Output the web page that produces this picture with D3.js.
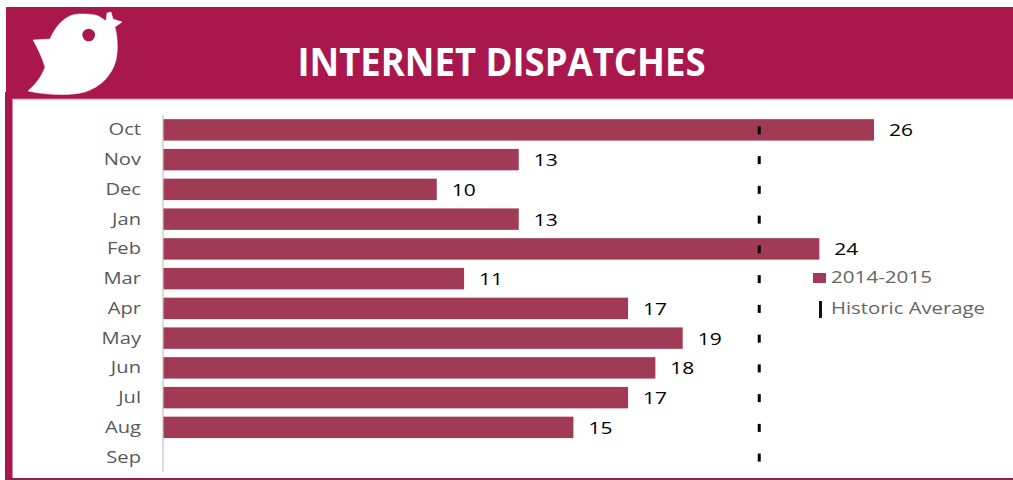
<!DOCTYPE html>
<html>
<head>
<meta charset="utf-8">
<script src="https://cdn.jsdelivr.net/npm/d3@7"></script>
<style>
html, body { margin: 0; padding: 0; background: #fff; overflow: hidden; }
text { font-family: "Open Sans", sans-serif; }
</style>
</head>
<body>
<div id="graphic"></div>
<script>
var months = ["Oct", "Nov", "Dec", "Jan", "Feb", "Mar", "Apr", "May", "Jun", "Jul", "Aug", "Sep"];
var dispatches = [26, 13, 10, 13, 24, 11, 17, 19, 18, 17, 15, null];
var historic = [21.8, 21.8, 21.8, 21.8, 21.8, 21.8, 21.8, 21.8, 21.8, 21.8, 21.8, 21.8];
var legendLabels = ["2014-2015", "Historic Average"];
var title = "INTERNET DISPATCHES";

var crimson = "#a9174d", barColor = "#a13a55";

var svg = d3.select("#graphic").append("svg").attr("width", 1013).attr("height", 480)
  .style("display", "block");

// frame and banner
svg.append("rect").attr("x", 5).attr("y", 92).attr("width", 7.5).attr("height", 388).attr("fill", crimson);
svg.append("rect").attr("x", 5).attr("y", 478).attr("width", 1008).attr("height", 2).attr("fill", "#8a2347");
svg.append("rect").attr("x", 6).attr("y", 7).attr("width", 1007).attr("height", 92).attr("fill", crimson);
svg.append("rect").attr("x", 12).attr("y", 98.5).attr("width", 1001).attr("height", 1).attr("fill", "#d9799b");

// bird
svg.append("path")
  .attr("d", "M33,40 L50,39 C56,25 66,14 80,14 C88,14 95,14 100,17 L106,21 L107,13 L111,12 L113,19 L122,22 L115,27 C118,40 118,50 116,60 C112,76 100,87 85,92 C70,96 45,95 28,91 C36,84 42,76 45,67 C42,57 38,49 33,40 Z")
  .attr("fill", "#fff").attr("stroke", "#fff").attr("stroke-width", 0.5).attr("stroke-linejoin", "round");
svg.append("circle").attr("cx", 88.7).attr("cy", 35).attr("r", 6.3).attr("fill", crimson);

svg.append("text").attr("x", 501.5).attr("y", 76).attr("text-anchor", "middle")
  .attr("font-size", 40).attr("font-weight", 700).attr("fill", "#fff")
  .attr("textLength", 408).attr("lengthAdjust", "spacingAndGlyphs").text(title);

var x = d3.scaleLinear().domain([0, 26]).range([163.5, 874]);
var y = d3.scaleBand().domain(months).range([115, 472]).paddingInner(0.28).paddingOuter(0.14);

// category axis
var yAxis = d3.axisLeft(y).tickSize(0).tickPadding(22);
var gy = svg.append("g").attr("transform", "translate(163,0)").call(yAxis);
gy.select(".domain").attr("stroke", "#cfcfcf").attr("stroke-width", 1.5).attr("d", "M0,115V472");
gy.selectAll("text").attr("font-size", 15.5).attr("fill", "#595959")
  .attr("y", 0.6)
  .style("font-family", "'Open Sans', sans-serif")
  .attr("textLength", function() { return this.getComputedTextLength() * 1.3; })
  .attr("lengthAdjust", "spacingAndGlyphs");

// bars
svg.append("g").selectAll("rect")
  .data(months.map(function(m, i) { return { month: m, value: dispatches[i] }; }).filter(function(d) { return d.value != null; }))
  .enter().append("rect")
  .attr("x", x(0)).attr("y", function(d) { return y(d.month); })
  .attr("width", function(d) { return x(d.value) - x(0); })
  .attr("height", y.bandwidth())
  .attr("fill", barColor);

// value labels
svg.append("g").selectAll("text")
  .data(months.map(function(m, i) { return { month: m, value: dispatches[i] }; }).filter(function(d) { return d.value != null; }))
  .enter().append("text")
  .attr("x", function(d) { return x(d.value) + 15; })
  .attr("y", function(d) { return y(d.month) + y.bandwidth() / 2 + 1; })
  .attr("dy", "0.35em")
  .attr("font-size", 15.5).attr("fill", "#000")
  .attr("textLength", 24).attr("lengthAdjust", "spacingAndGlyphs")
  .text(function(d) { return d.value; });

// historic average markers
svg.append("g").selectAll("rect")
  .data(months.map(function(m, i) { return { month: m, value: historic[i] }; }))
  .enter().append("rect")
  .attr("x", function(d) { return x(d.value) - 1.5; })
  .attr("y", function(d) { return y(d.month) + y.bandwidth() / 2 - 3.5; })
  .attr("width", 3).attr("height", 8)
  .attr("fill", "#000");

// legend
svg.append("rect").attr("x", 813).attr("y", 273).attr("width", 13).attr("height", 10).attr("fill", barColor);
svg.append("rect").attr("x", 819).attr("y", 301).attr("width", 3).attr("height", 17).attr("fill", "#111");
svg.append("g").selectAll("text").data(legendLabels).enter().append("text")
  .attr("x", 831).attr("y", function(d, i) { return i ? 314 : 283; })
  .attr("font-size", 15.5).attr("fill", "#666")
  .attr("textLength", function(d, i) { return i ? 154 : 101; }).attr("lengthAdjust", "spacingAndGlyphs")
  .text(function(d) { return d; });
</script>
</body>
</html>
